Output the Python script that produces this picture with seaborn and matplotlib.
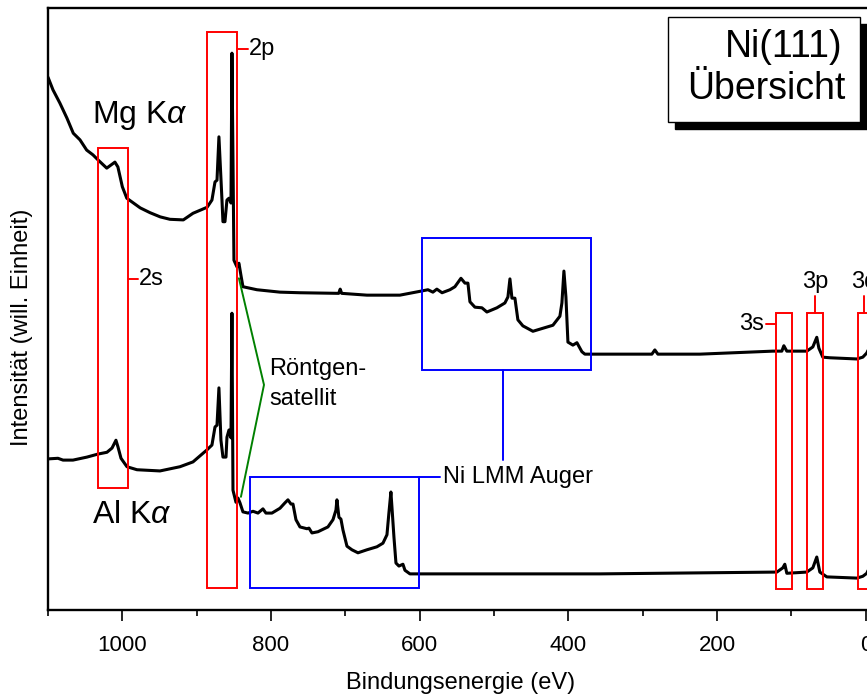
import numpy as np
import pandas as pd
import matplotlib
matplotlib.use("Agg")
import matplotlib.pyplot as plt
from matplotlib.patches import Rectangle
import seaborn as sns

# Ni(111) XPS survey spectra (binding energy in eV, intensity in arbitrary units)
be_mg = [1100, 1093.3, 1084, 1074.5, 1066, 1057, 1048, 1039.5, 1033, 1021, 1010, 1006,
         1000, 994, 976, 962.8, 949, 936, 918,
         905, 886, 879.5, 875.4, 872.7, 870.1, 866, 864.7, 862, 859.3, 856.6, 853.9,
         852.6, 849.9, 845.9, 843.2, 840.5, 837.8, 819, 788, 761, 709, 707, 705, 671,
         626.7, 597, 589, 582.3, 577, 570, 559.4, 552.7, 544.6, 539.2, 535.2, 532.5,
         525.8, 516.4, 509.7, 496.2, 485.5, 481.4, 478.7, 476, 472, 468, 461.3, 447.8,
         434.4, 420.9, 411.5, 408.8, 406.1, 403.4, 400.7, 394, 388.6, 381.9, 377.9,
         330.8, 287.8, 283.8, 279.7, 223.2, 125.1, 113, 110.3, 106.3, 79.4, 71.3, 66,
         63.2, 57.9, 48.5, 12.1, 4.1, -1.3, -8]
int_mg = [88.5, 86.4, 84.2, 81.7, 79.2, 78.1, 76.4, 75.6, 74.8, 73.4, 74.4, 73.6,
          70.3, 68.4, 66.8, 66.0, 65.3, 64.9, 64.8,
          65.9, 66.9, 68.1, 71.1, 71.4, 78.6, 68.1, 64.5, 64.5, 68.1, 68.4, 67.6,
          92.5, 58.1, 57.0, 57.6, 55.6, 53.7, 53.2, 52.8, 52.7, 52.6, 53.3, 52.6, 52.3,
          52.3, 53.0, 53.2, 52.8, 53.3, 52.7, 53.2, 53.7, 55.1, 54.3, 54.3, 51.2,
          50.3, 50.2, 49.5, 50.2, 51.0, 52.0, 55.0, 51.8, 51.8, 48.2, 47.2, 46.3,
          46.8, 47.3, 48.8, 51.0, 56.3, 52.0, 44.5, 44.0, 44.4, 42.9, 42.5,
          42.5, 42.5, 43.2, 42.5, 42.5, 43.0, 43.0, 43.9, 43.0, 43.0, 43.7, 45.3,
          43.5, 42.0, 41.9, 41.7, 42.0, 42.7, 44.5]

be_al = [1100, 1086.6, 1079.8, 1066.4, 1047.6, 1032.8, 1020.7, 1013.9, 1008.6, 1005.9,
         1001.8, 993.8, 980.3, 949.4, 922.5, 905, 886.2, 879.5, 875.4, 872.7, 870.1,
         867.4, 864.7, 860.6, 859.3, 856.6, 853.9, 852.6, 851.2, 847.2, 844.5, 841.8,
         837.8, 831, 824.3, 817.6, 810.9, 806.9, 798.8, 788, 781.3, 777.3, 773.2,
         770.5, 766.5, 761.1, 751.7, 749, 745, 736.9, 723.5, 716.7, 712.7, 711.4,
         708.7, 706, 703.3, 697.9, 691.2, 683.1, 671.1, 657.6, 649.5, 644.1, 641.5,
         638.8, 637.4, 634.7, 632, 628, 622.6, 619.9, 613.2, 572.9, 357.7, 119.7,
         111.7, 109, 106.3, 79.4, 71.3, 66, 61.9, 52.5, 12.1, 4.1, -1.3, -8]
int_al = [25.1, 25.2, 24.9, 24.9, 25.4, 25.9, 26.2, 26.9, 28.2, 27.1,
          25.2, 23.8, 23.3, 23.1, 23.8, 24.6, 26.6, 27.4, 30.4, 30.7, 36.9,
          28.2, 25.4, 25.4, 28.7, 29.9, 28.6, 49.3, 19.9, 17.9, 18.6, 17.8,
          16.3, 16.1, 16.4, 16.1, 16.8, 16.1, 16.1, 16.9, 17.8, 18.3, 17.6,
          17.6, 15.0, 13.8, 13.5, 13.6, 12.8, 13.0, 13.8, 15.0, 16.6, 18.3,
          15.4, 15.1, 13.3, 10.6, 10.0, 9.5, 10.0, 10.5, 11.1, 12.5, 16.1,
          19.6, 17.1, 12.1, 7.8, 7.3, 7.6, 6.6, 6.0, 6.0, 6.0, 6.3,
          7.0, 7.6, 6.1, 6.3, 7.0, 8.8, 6.3, 5.5, 5.3, 5.6, 6.1, 8.0]

sources = ["Mg K$\\alpha$", "Al K$\\alpha$"]

df = pd.concat([
    pd.DataFrame({"be": be_mg, "intensity": int_mg, "source": sources[0]}),
    pd.DataFrame({"be": be_al, "intensity": int_al, "source": sources[1]}),
], ignore_index=True)

sns.set_style("ticks")
plt.rcParams["font.family"] = ["Liberation Sans", "DejaVu Sans"]
plt.rcParams["mathtext.fontset"] = "custom"
plt.rcParams["mathtext.rm"] = "Liberation Sans"
plt.rcParams["mathtext.it"] = "Liberation Sans:italic"
for key in ["text.color", "axes.labelcolor", "xtick.color", "ytick.color",
            "axes.edgecolor"]:
    plt.rcParams[key] = "black"

W, H = 867, 697
fig = plt.figure(figsize=(W / 100, H / 100), dpi=100)
ax = fig.add_axes([48 / W, 1 - 610 / H, (877 - 48) / W, 602 / H])

sns.lineplot(data=df, x="be", y="intensity", units="source", estimator=None,
             color="black", lw=2.2, ax=ax, legend=False)

ax.set_xlim(1100, -15)
ax.set_ylim(0, 100)
ax.set_xticks([1000, 800, 600, 400, 200, 0])
ax.set_xticks([1100, 900, 700, 500, 300, 100], minor=True)
ax.set_yticks([])
ax.set_xlabel("")
ax.set_ylabel("")
ax.tick_params(axis="x", which="major", direction="out", length=8, width=1.2,
               labelsize=16, pad=10)
ax.tick_params(axis="x", which="minor", direction="out", length=4, width=1.2)
for s in ax.spines.values():
    s.set_linewidth(1.7)
    s.set_color("black")

fig.text(461 / W, 1 - 683 / H, "Bindungsenergie (eV)", ha="center", va="center",
         fontsize=17)
fig.text(22 / W, 1 - 327 / H, "Intensität (will. Einheit)", ha="center",
         va="center", rotation=90, fontsize=17)

red, blue, green = "#ff0000", "#0000ff", "#008000"


def box(x0, x1, y0, y1, color):
    ax.add_patch(Rectangle((min(x0, x1), min(y0, y1)), abs(x1 - x0), abs(y1 - y0),
                           fill=False, edgecolor=color, lw=1.4, zorder=3))


# core level regions
box(1032.8, 992.4, 20.3, 76.7, red)      # 2s
box(886.2, 845.9, 3.65, 96.0, red)       # 2p
box(121.1, 99.6, 3.5, 49.3, red)         # 3s
box(79.4, 57.9, 3.5, 49.3, red)          # 3p
box(10.8, -12, 3.5, 49.3, red)           # 3d

ax.plot([992.4, 979], [55.0, 55.0], color=red, lw=1.4)
ax.text(977.6, 55.0, "2s", ha="left", va="center", fontsize=17)
ax.plot([845.9, 831.1], [93.2, 93.2], color=red, lw=1.4)
ax.text(829.7, 93.2, "2p", ha="left", va="center", fontsize=17)
ax.plot([121.1, 134.5], [47.5, 47.5], color=red, lw=1.4)
ax.text(137.2, 47.5, "3s", ha="right", va="center", fontsize=17)
ax.plot([68.6, 68.6], [49.3, 52.2], color=red, lw=1.4)
ax.text(68.6, 52.6, "3p", ha="center", va="bottom", fontsize=17)
ax.plot([2.7, 2.7], [49.3, 52.2], color=red, lw=1.4)
ax.text(2.7, 52.6, "3d", ha="center", va="bottom", fontsize=17)

# Auger regions
box(597.1, 369.8, 39.9, 61.8, blue)
box(828.4, 601.1, 3.65, 22.1, blue)
ax.plot([601.1, 572.9], [22.1, 22.1], color=blue, lw=1.4)
ax.plot([488.2, 488.2], [39.9, 24.9], color=blue, lw=1.4)
ax.text(568.8, 22.1, "Ni LMM Auger", ha="left", va="center", fontsize=17)

# X-ray satellite pointers
ax.plot([843.2, 809.5, 840.5], [55.1, 37.4, 18.8], color=green, lw=1.4)
ax.text(802.8, 37.5, "Röntgen-\nsatellit", ha="left", va="center", fontsize=17,
        linespacing=1.45)

ax.text(1040.8, 82.2, sources[0], ha="left", va="center", fontsize=23)
ax.text(1040.8, 15.8, sources[1], ha="left", va="center", fontsize=23)

# title box with drop shadow
fig.patches.append(Rectangle((675 / W, 1 - 129 / H), (870 - 675) / W, (129 - 24) / H,
                             transform=fig.transFigure, facecolor="black",
                             edgecolor="black", zorder=5))
fig.patches.append(Rectangle((668 / W, 1 - 122 / H), (860 - 668) / W, (122 - 17) / H,
                             transform=fig.transFigure, facecolor="white",
                             edgecolor="black", lw=1.0, zorder=6))
fig.text(842 / W, 1 - 47 / H, "Ni(111)", ha="right", va="center", fontsize=27,
         zorder=7)
fig.text(845 / W, 1 - 89 / H, "Übersicht", ha="right", va="center", fontsize=27,
         zorder=7)

fig.savefig("out.png", dpi=100)
